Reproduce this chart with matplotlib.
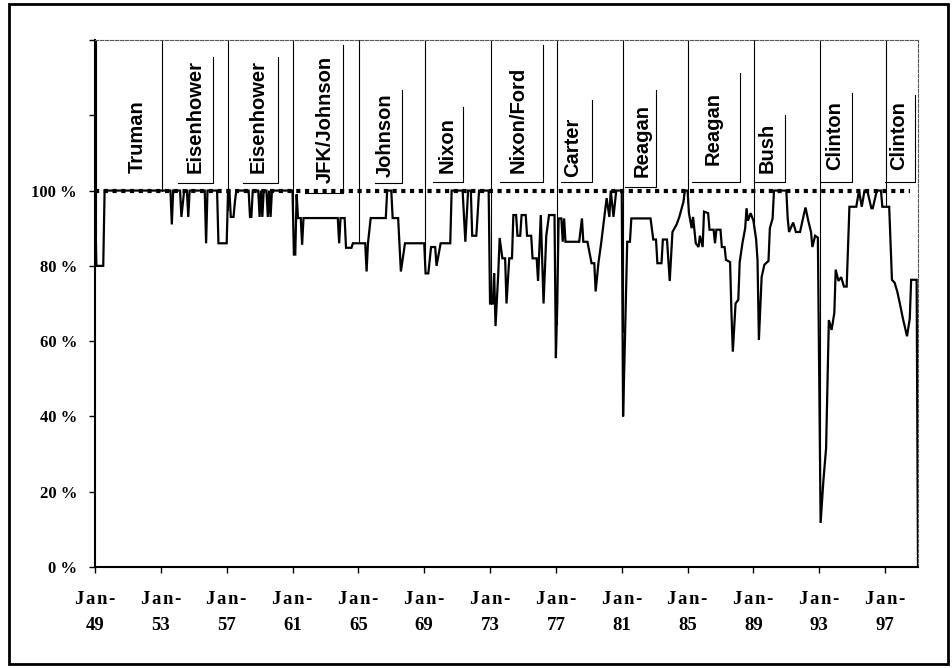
import numpy as np
import matplotlib
matplotlib.use("Agg")
import matplotlib.pyplot as plt
from matplotlib.patches import Rectangle

# ---------------- data ----------------
dates = [
    "1949-01", "1949-02", "1949-07", "1949-08", "1953-08", "1953-09", "1953-10",
    "1954-03", "1954-04", "1954-06", "1954-08", "1954-09", "1954-10",
    "1955-09", "1955-10", "1955-11", "1956-06", "1956-07", "1957-01", "1957-02",
    "1957-03", "1957-04", "1957-06", "1957-07", "1957-08",
    "1958-05", "1958-06", "1958-07", "1958-08", "1958-12", "1959-01", "1959-02",
    "1959-03", "1959-04", "1959-06", "1959-07", "1959-08", "1959-09", "1959-10",
    "1960-12", "1961-01", "1961-02", "1961-03", "1961-04", "1961-05", "1961-07",
    "1961-08", "1961-09", "1963-10", "1963-11", "1963-12", "1964-03", "1964-04",
    "1964-08", "1964-09", "1965-06", "1965-07", "1965-08", "1965-10", "1966-09",
    "1966-10", "1967-01", "1967-02", "1967-06", "1967-08", "1967-11", "1969-01",
    "1969-02", "1969-04", "1969-06", "1969-09", "1969-10", "1970-01", "1970-08",
    "1970-09", "1971-05", "1971-07", "1971-09", "1971-11", "1971-12", "1972-03",
    "1972-05", "1972-12",
    "1973-01", "1973-03", "1973-04", "1973-05", "1973-07", "1973-08", "1973-10",
    "1973-12", "1974-01", "1974-03", "1974-05", "1974-06", "1974-08", "1974-09",
    "1974-11", "1974-12", "1975-03", "1975-04", "1975-07", "1975-08", "1975-11",
    "1975-12", "1976-02", "1976-04", "1976-06", "1976-08", "1976-12", "1977-01",
    "1977-02", "1977-03", "1977-05", "1977-06", "1977-07", "1977-08", "1978-06",
    "1978-08", "1978-09", "1978-12", "1979-03", "1979-05", "1979-06", "1979-08",
    "1979-10", "1979-12", "1980-02", "1980-04", "1980-05", "1980-07", "1980-09",
    "1981-01", "1981-02", "1981-03", "1981-05", "1981-07", "1981-08", "1982-10",
    "1982-12", "1983-02", "1983-03", "1983-06", "1983-07", "1983-10", "1983-12",
    "1984-02", "1984-05", "1984-07", "1984-10", "1984-11", "1985-01", "1985-02",
    "1985-04", "1985-05", "1985-07", "1985-09", "1985-10", "1985-12",
    "1986-01", "1986-04", "1986-05", "1986-08", "1986-09", "1986-10", "1987-01",
    "1987-02", "1987-04", "1987-05", "1987-08", "1987-09", "1987-10", "1987-12",
    "1988-02", "1988-03", "1988-05", "1988-07", "1988-08", "1988-09", "1988-11",
    "1989-01", "1989-03", "1989-04", "1989-05", "1989-07", "1989-09", "1989-12",
    "1990-01", "1990-03", "1990-04", "1991-01", "1991-02", "1991-03", "1991-06",
    "1991-08", "1991-11", "1992-02", "1992-03", "1992-05", "1992-07", "1992-08",
    "1992-10", "1992-12", "1993-02", "1993-04", "1993-06", "1993-07", "1993-08",
    "1993-10", "1993-12", "1994-01", "1994-03", "1994-05", "1994-07", "1994-09",
    "1994-11", "1995-04", "1995-06", "1995-08", "1995-10", "1995-12", "1996-03",
    "1996-04", "1996-07", "1996-10", "1996-11", "1997-04", "1997-06", "1997-08",
    "1997-10", "1997-12", "1998-02", "1998-05", "1998-07", "1998-08", "1998-12",
    "1999-01",
]
approval = [
    100, 80, 80, 100, 100, 91, 100,
    100, 93, 100, 100, 93, 100,
    100, 86, 100, 100, 86, 86, 100,
    100, 93, 93, 97, 100,
    100, 93, 93, 100, 100, 93, 100,
    93, 100, 100, 93, 100, 93, 100,
    100, 100, 83, 83, 99, 92.7, 92.7,
    85.6, 92.7, 92.7, 86, 92.7, 92.7, 84.8,
    84.8, 86, 86, 78.5, 86, 92.7, 92.7,
    100, 100, 92.7, 92.7, 78.5, 86, 86,
    78, 78, 85, 85, 80, 86, 86,
    100, 100, 86.4, 100, 100, 88, 88,
    100, 100,
    70, 70, 78, 64, 78, 87.4, 82,
    82, 70, 82, 82, 93.5, 93.5, 88,
    88, 93.5, 93.5, 88, 88, 82, 82,
    76, 93.5, 70, 88, 93.5, 93.5, 55.5,
    70, 92.6, 92.6, 86.4, 92.6, 86.4, 86.4,
    92.6, 86.4, 86.4, 80.7, 80.7, 73.2, 80.7,
    86, 92, 98, 93, 100, 93, 100,
    100, 40, 55, 86.4, 86.4, 92.6, 92.6,
    87, 87, 80.7, 80.7, 87, 87, 76,
    89, 91, 93, 97, 100, 100, 94,
    90, 93, 86, 85, 88, 85,
    94.4, 94, 89.6, 89.6, 86, 89.6, 89.6,
    85, 85, 81.6, 81, 67.5, 57.2, 70,
    71, 81, 86, 90, 95.3, 92, 94,
    92, 87, 81.5, 60.3, 77, 80.3, 81.3,
    90, 92.6, 100, 100, 92.6, 89, 91.5,
    89, 89, 94, 95.5, 92, 89, 85,
    88, 87.5, 11.7, 22.8, 31.6, 49, 65.6,
    63, 67.5, 79, 76, 77, 74.5, 74.5,
    95.7, 95.7, 100, 95.7, 100, 100, 95.3,
    95.3, 100, 100, 95.7, 95.7, 76.3, 75.5,
    73, 69.6, 66, 61.3, 66, 76.3, 76.3,
    0,
]

presidents = ["Truman", "Eisenhower", "Eisenhower", "JFK/Johnson", "Johnson",
              "Nixon", "Nixon/Ford", "Carter", "Reagan", "Reagan", "Bush",
              "Clinton", "Clinton"]
term_starts = [1949, 1953, 1957, 1961, 1965, 1969, 1973, 1977, 1981, 1985,
               1989, 1993, 1997]

x_ticks = list(range(1949, 1998, 4))
HS = "\u200a"
x_tick_labels = ["J" + HS + "a" + HS + "n" + HS + "-\n%02d" % (yr % 100)
                 for yr in x_ticks]
y_ticks = [0, 20, 40, 60, 80, 100, 120, 140]
y_tick_labels = ["0 %", "20 %", "40 %", "60 %", "80 %", "100 %", "", ""]
reference_level = 100
reference_span = ["1949-01", "1998-07"]

# ---------------- layout of the label boxes (data coords) ----------------
# text x, text bottom, box right, box top, box bottom, bottom-line left
label_layout = [
    (1951.55, 104.7, None, None, None, None),
    (1955.08, 104.7, 1956.17, 135.5, 102.1, 1954.04),
    (1958.90, 104.7, 1960.12, 135.5, 102.1, 1957.99),
    (1962.97, 102.0, 1964.07, 138.7, 99.4, 1961.76),
    (1966.62, 103.6, 1967.65, 126.8, 102.0, 1966.01),
    (1970.39, 104.7, 1971.36, 122.2, 102.3, 1969.53),
    (1974.70, 104.7, 1976.22, 138.7, 102.3, 1973.60),
    (1978.04, 103.6, 1979.19, 124.1, 102.3, 1977.31),
    (1982.23, 103.6, 1983.08, 126.8, 101.0, 1981.20),
    (1986.55, 106.8, 1988.19, 131.3, 102.3, 1985.27),
    (1989.83, 104.7, 1990.92, 120.1, 102.3, 1989.10),
    (1993.96, 105.5, 1994.99, 126.0, 102.3, 1993.11),
    (1997.85, 105.5, 1998.82, 125.4, 102.3, 1997.00),
]


def to_year(s):
    yy, mm = s.split("-")
    return int(yy) + (int(mm) - 1) / 12.0


xs = np.array([to_year(d) for d in dates])
ys = np.array(approval, dtype=float)

W, H = 952, 668
fig = plt.figure(figsize=(W / 100, H / 100), dpi=100)
ax = fig.add_axes([95 / W, 1 - 567 / H, (918 - 95) / W, (567 - 40) / H])

ax.set_xlim(1949, 1999)
ax.set_ylim(0, 140)

# 100% reference (thick square dots)
ax.plot([to_year(reference_span[0]), to_year(reference_span[1])],
        [reference_level, reference_level], color="black", lw=3.0,
        linestyle=(0, (1, 1.1)), solid_capstyle="butt", zorder=2)

# main series
ax.plot(xs, ys, color="black", lw=1.6, zorder=3, solid_joinstyle="miter")

# term dividers and label boxes
for name, start, lay in zip(presidents, term_starts, label_layout):
    xd = start + 19 / 365.0
    ybot = np.interp(xd, xs, ys)
    ax.plot([xd, xd], [140, min(ybot, 100)], color="black", lw=0.8, zorder=1)
    tx, tb, br, bt, bb, bl = lay
    if br is not None:
        ax.plot([bl, br, br], [bb, bb, bt], color="black", lw=0.8, zorder=1)
    ax.text(tx, tb, name, rotation=90, ha="center", va="bottom",
            fontsize=14.5, fontweight="bold", family="Liberation Sans",
            zorder=4)

# spines
for side in ("left", "bottom"):
    ax.spines[side].set_color("black")
    ax.spines[side].set_linewidth(1.5)
for side in ("top", "right"):
    ax.spines[side].set_color("0.35")
    ax.spines[side].set_linewidth(0.8)
    ax.spines[side].set_linestyle((0, (3, 1.5)))

ax.set_xticks(x_ticks)
ax.set_xticklabels(x_tick_labels, fontsize=13.5, fontweight="bold",
                   family=["Liberation Serif", "DejaVu Serif"], linespacing=1.7)
ax.set_yticks(y_ticks)
ax.set_yticklabels(y_tick_labels, fontsize=12, fontweight="bold",
                   family="Liberation Serif")
ax.tick_params(axis="x", direction="out", length=4, width=1, pad=13)
ax.tick_params(axis="y", direction="out", length=4, width=1, pad=9)

# outer frame
fig.patches.append(Rectangle((9 / W, 1 - 664 / H), (948 - 9) / W, (664 - 4) / H,
                             transform=fig.transFigure, fill=False,
                             lw=2, ec="black"))

fig.savefig("out.png", dpi=100)
